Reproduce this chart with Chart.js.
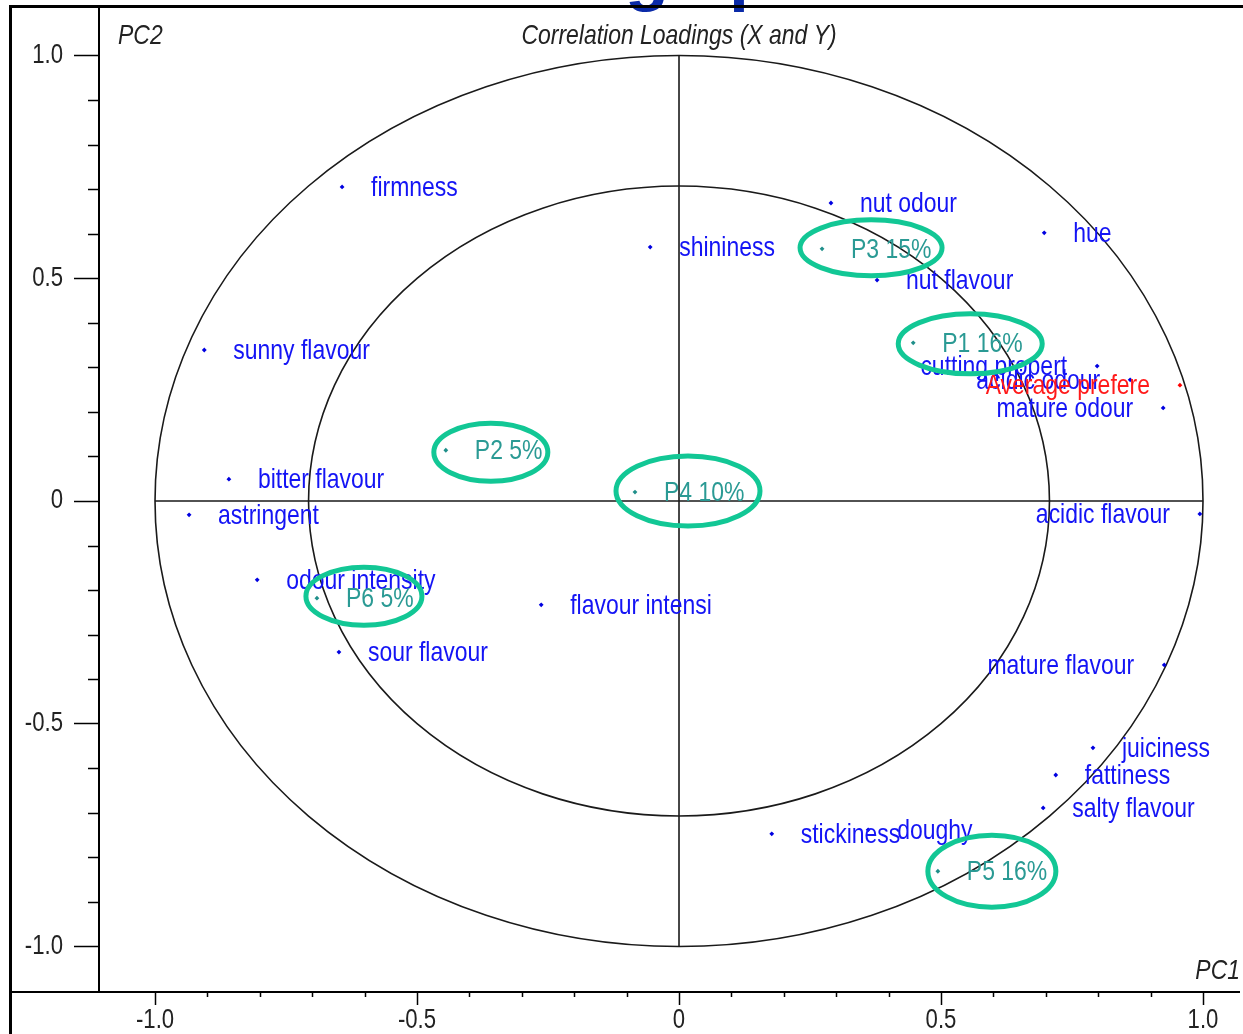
<!DOCTYPE html>
<html lang="en">
<head>
<meta charset="UTF-8">
<title>Correlation Loadings</title>
<script src="https://cdn.jsdelivr.net/npm/chart.js"></script>
<style>
    body { margin: 0; background: #fff; }
    #wrap { width: 1243px; height: 1034px; }
</style>
</head>
<body>
<div id="wrap"><canvas id="loadings" width="1243" height="1034"></canvas></div>

<script>
    // X variables (sensory attributes)
    var xNames = ['firmness', 'shininess', 'nut odour', 'hue', 'nut flavour', 'sunny flavour',
        'cutting propert', 'acidic odour', 'mature odour', 'acidic flavour', 'mature flavour',
        'juiciness', 'fattiness', 'salty flavour', 'stickiness', 'doughy', 'flavour intensi',
        'sour flavour', 'odour intensity', 'astringent', 'bitter flavour'];
    var xPC1 = [-0.643, -0.055, 0.290, 0.697, 0.378, -0.906,
        0.798, 0.861, 0.924, 0.994, 0.926,
        0.790, 0.719, 0.695, 0.177, 0.361, -0.263,
        -0.649, -0.805, -0.935, -0.859];
    var xPC2 = [0.705, 0.570, 0.669, 0.602, 0.496, 0.339,
        0.303, 0.272, 0.209, -0.029, -0.368,
        -0.554, -0.615, -0.689, -0.747, -0.738, -0.233,
        -0.339, -0.177, -0.031, 0.049];

    // Y variable
    var yNames = ['Average prefere'];
    var yPC1 = [0.956];
    var yPC2 = [0.260];

    // panel segments
    var segNames = ['P1 16%', 'P2 5%', 'P3 15%', 'P4 10%', 'P5 16%', 'P6 5%'];
    var segPC1 = [0.447, -0.445, 0.273, -0.084, 0.494, -0.691];
    var segPC2 = [0.355, 0.114, 0.566, 0.020, -0.831, -0.218];

    var axisTicks = [-1.0, -0.5, 0, 0.5, 1.0];
    var circleRadii = [1.0, 0.707];

    // green rings drawn round the segment labels (offset from the point, radii)
    var rings = [
        { dx: 57, dy: 1, rx: 72, ry: 30 },
        { dx: 45, dy: 2, rx: 57, ry: 29 },
        { dx: 49, dy: -1, rx: 71, ry: 28 },
        { dx: 53, dy: -1, rx: 72, ry: 35 },
        { dx: 54, dy: 0, rx: 64, ry: 36 },
        { dx: 47, dy: -2, rx: 58, ry: 29 }
    ];

    // narrow sans: regular Liberation Sans squeezed sideways
    var FONT = '"Liberation Sans", Arial, sans-serif';
    var SQUEEZE = 0.82;

    function narrowText(ctx, txt, x, y, align) {
        ctx.save();
        ctx.translate(x, y);
        ctx.scale(SQUEEZE, 1);
        ctx.textAlign = align;
        ctx.fillText(txt, 0, 0);
        ctx.restore();
    }

    function toPoints(a, b) {
        return a.map(function (v, i) { return { x: v, y: b[i] }; });
    }

    function tickText(v) {
        return v === 0 ? '0' : v.toFixed(1);
    }

    var loadingsPlot = {
        id: 'loadingsPlot',
        beforeDatasetsDraw: function (chart) {
            var ctx = chart.ctx, x = chart.scales.x, y = chart.scales.y;
            var cx = x.getPixelForValue(0), cy = y.getPixelForValue(0);
            ctx.save();
            ctx.strokeStyle = '#1a1a1a';
            ctx.lineWidth = 1.6;
            circleRadii.forEach(function (r) {
                ctx.beginPath();
                ctx.ellipse(cx, cy, x.getPixelForValue(r) - cx, cy - y.getPixelForValue(r), 0, 0, Math.PI * 2);
                ctx.stroke();
            });
            ctx.beginPath();
            ctx.moveTo(x.getPixelForValue(-1), cy);
            ctx.lineTo(x.getPixelForValue(1), cy);
            ctx.moveTo(cx, y.getPixelForValue(1));
            ctx.lineTo(cx, y.getPixelForValue(-1));
            ctx.stroke();
            ctx.restore();
        },
        afterDraw: function (chart) {
            var ctx = chart.ctx, x = chart.scales.x, y = chart.scales.y, area = chart.chartArea;
            ctx.save();

            // minor ticks every 0.1
            ctx.strokeStyle = '#000';
            ctx.lineWidth = 1.5;
            ctx.beginPath();
            for (var i = -10; i <= 10; i++) {
                if (i % 5 === 0) continue;
                var px = Math.round(x.getPixelForValue(i / 10)) + 0.5;
                ctx.moveTo(px, area.bottom);
                ctx.lineTo(px, area.bottom + 5);
                var py = Math.round(y.getPixelForValue(i / 10)) + 0.5;
                ctx.moveTo(area.left - 11, py);
                ctx.lineTo(area.left, py);
            }
            ctx.stroke();

            // x axis line runs out to the frame
            ctx.lineWidth = 2;
            ctx.beginPath();
            ctx.moveTo(10, area.bottom);
            ctx.lineTo(area.left, area.bottom);
            ctx.stroke();

            // tick labels
            ctx.fillStyle = '#222';
            ctx.font = '27px ' + FONT;
            ctx.textBaseline = 'middle';
            x.ticks.forEach(function (t) {
                narrowText(ctx, tickText(t.value), x.getPixelForValue(t.value), area.bottom + 29, 'center');
            });
            y.ticks.forEach(function (t) {
                narrowText(ctx, tickText(t.value), area.left - 36, y.getPixelForValue(t.value), 'right');
            });

            // slide heading, mostly cut off above the frame
            ctx.fillStyle = '#0a2aa8';
            ctx.font = 'bold 72px ' + FONT;
            ctx.textBaseline = 'alphabetic';
            ctx.textAlign = 'left';
            ctx.fillText('Loadings plot', 389, -3);

            // outer frame
            ctx.fillStyle = '#000';
            ctx.fillRect(9, 5, 3, 1034);
            ctx.fillRect(9, 5, 1243, 3);

            // plot titles
            ctx.fillStyle = '#222';
            ctx.font = 'italic 28px ' + FONT;
            ctx.textBaseline = 'middle';
            narrowText(ctx, 'Correlation Loadings (X and Y)', x.getPixelForValue(0), 36, 'center');
            narrowText(ctx, 'PC2', 118, 36, 'left');
            narrowText(ctx, 'PC1', 1240, 971, 'right');

            // point labels, flipped to the left where they would run off the plot
            ctx.font = '28px ' + FONT;
            chart.data.datasets.forEach(function (ds, d) {
                var meta = chart.getDatasetMeta(d);
                ctx.fillStyle = ds.labelColor;
                meta.data.forEach(function (pt, k) {
                    var txt = ds.names[k];
                    var w = ctx.measureText(txt).width * SQUEEZE;
                    if (pt.x + 29 + w > 1243) {
                        narrowText(ctx, txt, pt.x - 30, pt.y + 1, 'right');
                    } else {
                        narrowText(ctx, txt, pt.x + 29, pt.y + 1, 'left');
                    }
                });
            });

            // green rings round the segments
            var segMeta = chart.getDatasetMeta(2);
            ctx.strokeStyle = '#12c795';
            ctx.lineWidth = 5;
            segMeta.data.forEach(function (pt, k) {
                var r = rings[k];
                ctx.beginPath();
                ctx.ellipse(pt.x + r.dx, pt.y + r.dy, r.rx, r.ry, 0, 0, Math.PI * 2);
                ctx.stroke();
            });

            ctx.restore();
        }
    };

    var ctx = document.getElementById('loadings').getContext('2d');
    var chart = new Chart(ctx, {
        type: 'scatter',
        data: {
            datasets: [
                {
                    label: 'X', names: xNames, labelColor: '#1414f5',
                    data: toPoints(xPC1, xPC2),
                    pointStyle: 'rectRot', pointRadius: 2.4,
                    backgroundColor: '#0000e0', borderColor: '#0000e0', borderWidth: 0
                },
                {
                    label: 'Y', names: yNames, labelColor: '#ff1a1a',
                    data: toPoints(yPC1, yPC2),
                    pointStyle: 'rectRot', pointRadius: 2.4,
                    backgroundColor: '#ff0000', borderColor: '#ff0000', borderWidth: 0
                },
                {
                    label: 'Segments', names: segNames, labelColor: '#2a9a94',
                    data: toPoints(segPC1, segPC2),
                    pointStyle: 'rectRot', pointRadius: 2.4,
                    backgroundColor: '#1f8f8a', borderColor: '#1f8f8a', borderWidth: 0
                }
            ]
        },
        options: {
            responsive: false,
            animation: false,
            layout: { padding: { top: 7, right: 0, left: 0, bottom: 0 } },
            plugins: {
                legend: { display: false },
                tooltip: { enabled: false }
            },
            scales: {
                x: {
                    type: 'linear',
                    min: -1.1069,
                    max: 1.0687,
                    afterFit: function (s) { s.height = 42; },
                    afterBuildTicks: function (s) {
                        s.ticks = axisTicks.map(function (v) { return { value: v }; });
                    },
                    ticks: { display: false },
                    grid: { display: true, drawOnChartArea: false, drawTicks: true, tickLength: 13, tickWidth: 1.5, tickColor: '#000' },
                    border: { display: true, color: '#000', width: 2 }
                },
                y: {
                    type: 'linear',
                    min: -1.1021,
                    max: 1.1089,
                    afterFit: function (s) { s.width = 99; },
                    afterBuildTicks: function (s) {
                        s.ticks = axisTicks.map(function (v) { return { value: v }; });
                    },
                    ticks: { display: false },
                    grid: { display: true, drawOnChartArea: false, drawTicks: true, tickLength: 25, tickWidth: 1.5, tickColor: '#000' },
                    border: { display: true, color: '#000', width: 2 }
                }
            }
        },
        plugins: [loadingsPlot]
    });
</script>
</body>
</html>
